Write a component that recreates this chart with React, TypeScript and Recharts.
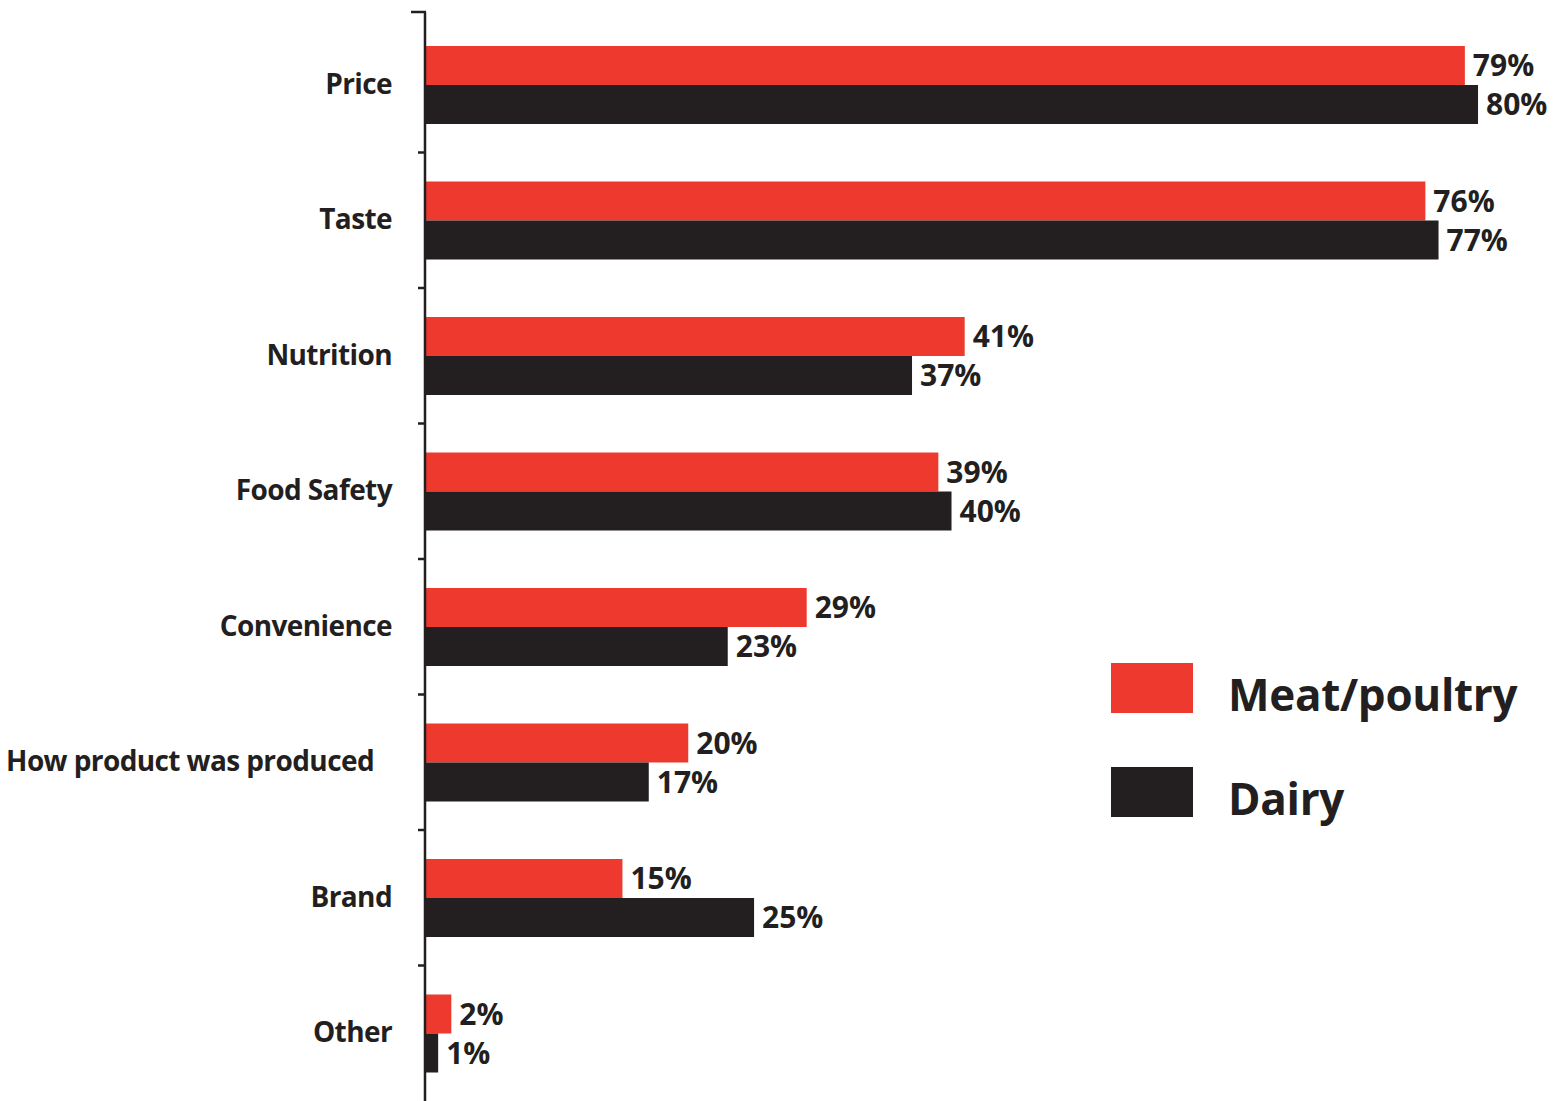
import React from "react";
import { BarChart, Bar, XAxis, YAxis, Legend, LabelList } from "recharts";

const categories = [
  "Price",
  "Taste",
  "Nutrition",
  "Food Safety",
  "Convenience",
  "How product was produced",
  "Brand",
  "Other",
];
const meatPoultry = [79, 76, 41, 39, 29, 20, 15, 2];
const dairy = [80, 77, 37, 40, 23, 17, 25, 1];

const RED = "#EE3A2E";
const DARK = "#231F20";
const FONT = "'Open Sans', 'Noto Sans', sans-serif";

const data = categories.map((name, i) => ({
  name,
  meat: meatPoultry[i],
  dairy: dairy[i],
}));

const W = 1566;
const H = 1101;
const MARGIN = { top: 17, right: 9, bottom: 0, left: 0 };
const AXIS_X = 425;
const BAND = (H - MARGIN.top - MARGIN.bottom) / categories.length;

function CategoryTick(props: any) {
  const { y, payload, index } = props;
  const long = payload.value === "How product was produced";
  const top = y - BAND / 2;
  return (
    <g>
      {index === 0 ? (
        <>
          <line x1={AXIS_X} x2={AXIS_X} y1={top - 5} y2={top} stroke={DARK} strokeWidth={2.5} />
          <line x1={AXIS_X - 14} x2={AXIS_X + 1} y1={top - 5} y2={top - 5} stroke={DARK} strokeWidth={2.5} />
        </>
      ) : (
        <line x1={AXIS_X - 7} x2={AXIS_X} y1={top} y2={top} stroke={DARK} strokeWidth={2.5} />
      )}
      <text
        x={long ? AXIS_X - 51 : AXIS_X - 33}
        y={y - 2}
        textAnchor="end"
        dominantBaseline="central"
        fill={DARK}
        fontFamily={FONT}
        fontWeight={700}
        fontSize={28}
        letterSpacing={-0.6}
      >
        {payload.value}
      </text>
    </g>
  );
}

function LegendBox() {
  const items = [
    { label: "Meat/poultry", color: RED },
    { label: "Dairy", color: DARK },
  ];
  return (
    <div style={{ fontFamily: FONT }}>
      {items.map((it, i) => (
        <div
          key={it.label}
          style={{
            display: "flex",
            alignItems: "flex-start",
            height: 50,
            marginBottom: i === 0 ? 54 : 0,
          }}
        >
          <span style={{ display: "inline-block", width: 82, height: 50, background: it.color }} />
          <span
            style={{
              marginLeft: 35,
              marginTop: 6,
              fontSize: 44,
              fontWeight: 700,
              color: DARK,
              letterSpacing: -0.3,
              lineHeight: "50px",
            }}
          >
            {it.label}
          </span>
        </div>
      ))}
    </div>
  );
}

const pct = (v: any) => `${v}%`;

export default function App() {
  return (
    <div style={{ position: "absolute", left: 0, top: 0, background: "#fff" }}>
      <BarChart
        layout="vertical"
        data={data}
        width={W}
        height={H}
        margin={MARGIN}
        barSize={39}
        barGap={0}
      >
        <XAxis type="number" domain={[0, 86]} hide />
        <YAxis
          type="category"
          dataKey="name"
          width={AXIS_X}
          axisLine={{ stroke: DARK, strokeWidth: 2.5 }}
          tickLine={false}
          tick={<CategoryTick />}
          interval={0}
        />
        <Legend
          layout="horizontal"
          verticalAlign="middle"
          align="center"
          content={<LegendBox />}
          wrapperStyle={{ left: 1111, top: 663, width: "auto" }}
        />
        <Bar dataKey="meat" name="Meat/poultry" fill={RED} isAnimationActive={false}>
          <LabelList
            dataKey="meat"
            position="right"
            offset={8}
            formatter={pct}
            fill={DARK}
            fontFamily={FONT}
            fontWeight={700}
            fontSize={30}
          />
        </Bar>
        <Bar dataKey="dairy" name="Dairy" fill={DARK} isAnimationActive={false}>
          <LabelList
            dataKey="dairy"
            position="right"
            offset={8}
            formatter={pct}
            fill={DARK}
            fontFamily={FONT}
            fontWeight={700}
            fontSize={30}
          />
        </Bar>
      </BarChart>
    </div>
  );
}
